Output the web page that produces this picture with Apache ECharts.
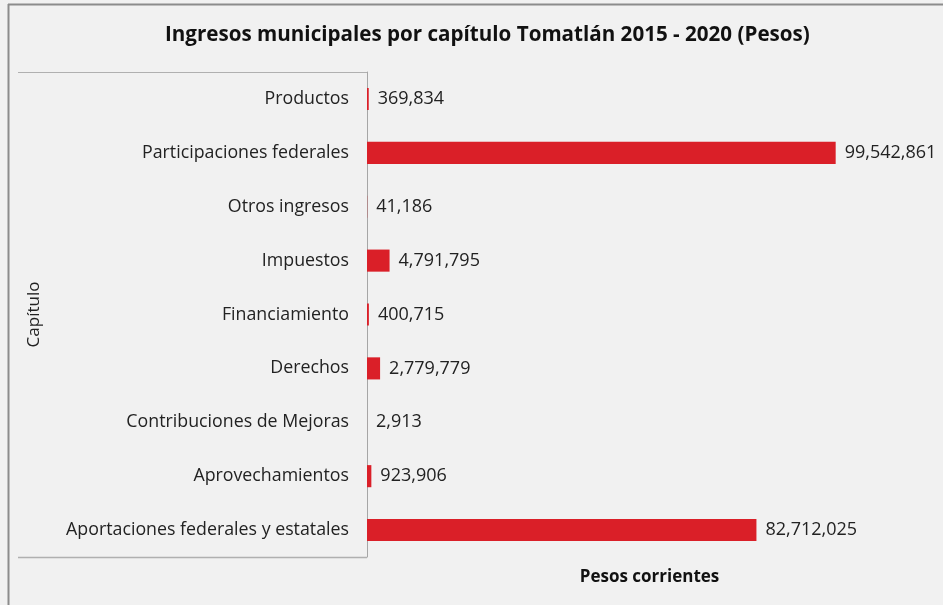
<!DOCTYPE html>
<html>
<head>
<meta charset="utf-8">
<title>Ingresos municipales Tomatlán</title>
<script src="https://cdn.jsdelivr.net/npm/echarts@6/dist/echarts.min.js"></script>
<style>
    html, body {margin: 0; padding: 0; background: #f1f1f1;}
    #main {width: 943px; height: 605px;}
</style>
</head>
<body>
<div id="main"></div>
<script>
// capítulos, de arriba hacia abajo
var capitulos = [
    'Productos',
    'Participaciones federales',
    'Otros ingresos',
    'Impuestos',
    'Financiamiento',
    'Derechos',
    'Contribuciones de Mejoras',
    'Aprovechamientos',
    'Aportaciones federales y estatales'
];
var montos = [369834, 99542861, 41186, 4791795, 400715, 2779779, 2913, 923906, 82712025];

var titulo = 'Ingresos municipales por capítulo Tomatlán 2015 - 2020 (Pesos)';
var ejeX = 'Pesos corrientes';
var ejeY = 'Capítulo';

var fuente = 'Open Sans';
var myChart = echarts.init(document.getElementById('main'));

var option = {
    backgroundColor: '#f1f1f1',
    title: {
        text: titulo,
        left: 160,
        top: 20,
        textStyle: {
            color: '#111',
            fontFamily: fuente,
            fontWeight: 'bold',
            fontSize: 20.6
        }
    },
    grid: {left: 367, right: 11, top: 72, bottom: 48},
    xAxis: {
        type: 'value',
        min: 0,
        max: 120000000,
        name: ejeX,
        nameLocation: 'middle',
        nameGap: 12,
        nameTextStyle: {color: '#111', fontFamily: fuente, fontWeight: 'bold', fontSize: 17},
        axisLine: {show: false},
        axisTick: {show: false},
        axisLabel: {show: false},
        splitLine: {show: false}
    },
    yAxis: {
        type: 'category',
        inverse: true,
        data: capitulos,
        name: ejeY,
        nameLocation: 'middle',
        nameRotate: 90,
        nameGap: 324,
        nameTextStyle: {color: '#222', fontFamily: fuente, fontSize: 17},
        axisLine: {show: true, lineStyle: {color: '#a6a6a6', width: 1}},
        axisTick: {show: false},
        axisLabel: {margin: 18, color: '#222', fontFamily: fuente, fontSize: 17.8}
    },
    graphic: [
        // marco exterior (arriba e izquierda)
        {type: 'line', shape: {x1: 8, y1: 4.5, x2: 943, y2: 4.5}, style: {stroke: '#8c8c8c', lineWidth: 2}},
        {type: 'line', shape: {x1: 8.5, y1: 4, x2: 8.5, y2: 605}, style: {stroke: '#8c8c8c', lineWidth: 2}},
        // caja de las etiquetas
        {type: 'line', shape: {x1: 18, y1: 72.5, x2: 367, y2: 72.5}, style: {stroke: '#b0b0b0', lineWidth: 1}},
        {type: 'line', shape: {x1: 18, y1: 557.5, x2: 367, y2: 557.5}, style: {stroke: '#b0b0b0', lineWidth: 1.5}}
    ],
    series: [{
        type: 'bar',
        data: montos,
        barCategoryGap: '59%',
        itemStyle: {color: '#da1f28'},
        label: {
            show: true,
            position: 'right',
            distance: 9,
            color: '#222',
            fontFamily: fuente,
            fontSize: 18,
            formatter: function (p) {
                return p.value.toLocaleString('en-US');
            }
        },
        silent: true
    }]
};

myChart.setOption(option);
</script>
</body>
</html>
